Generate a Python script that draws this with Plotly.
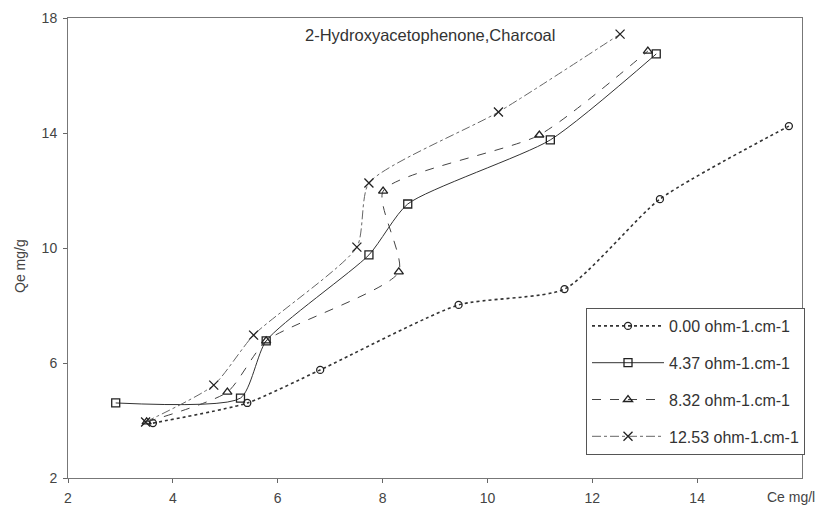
import plotly.graph_objects as go

# Equilibrium concentration Ce (mg/l) and uptake Qe (mg/g) for each conductivity level
ce_000 = [3.62, 5.42, 6.81, 9.45, 11.47, 13.29, 15.75]
qe_000 = [3.91, 4.61, 5.76, 8.02, 8.57, 11.70, 14.24]

ce_437 = [2.91, 5.29, 5.78, 7.74, 8.48, 11.20, 13.22]
qe_437 = [4.61, 4.78, 6.77, 9.76, 11.53, 13.76, 16.75]

ce_832 = [3.50, 5.04, 5.78, 8.31, 8.01, 10.99, 13.06]
qe_832 = [3.95, 4.99, 6.77, 9.17, 11.98, 13.93, 16.85]

ce_1253 = [3.48, 4.78, 5.54, 7.51, 7.74, 10.21, 12.53]
qe_1253 = [3.95, 5.23, 6.97, 10.03, 12.26, 14.73, 17.44]

series_names = ["0.00 ohm-1.cm-1", "4.37 ohm-1.cm-1", "8.32 ohm-1.cm-1", "12.53 ohm-1.cm-1"]
x_ticks = [2, 4, 6, 8, 10, 12, 14]
y_ticks = [2, 6, 10, 14, 18]

styles = [
    dict(dash="dot", width=1.6, color="#333333", symbol="circle-open", size=7),
    dict(dash="solid", width=1.0, color="#333333", symbol="square-open", size=8),
    dict(dash="dash", width=1.0, color="#444444", symbol="triangle-up-open", size=8),
    dict(dash="dashdot", width=1.0, color="#666666", symbol="x-thin-open", size=9),
]

data = [(ce_000, qe_000), (ce_437, qe_437), (ce_832, qe_832), (ce_1253, qe_1253)]

fig = go.Figure()
for (xs, ys), name, st in zip(data, series_names, styles):
    fig.add_trace(go.Scatter(
        x=xs, y=ys, name=name, mode="lines+markers",
        legendgroup=name,
        line=dict(color=st["color"], width=st["width"], dash=st["dash"],
                  shape="spline", smoothing=0.6),
        marker=dict(symbol=st["symbol"], size=st["size"], color="#222222",
                    line=dict(width=1.3, color="#222222")),
    ))

font_main = "Liberation Sans, Arial, sans-serif"

W, H = 819, 516
L, R, T, B = 68, 17, 18, 38
plot_w = W - L - R
plot_h = H - T - B


def px_x(p):
    return (p - L) / plot_w


def px_y(p):
    return (H - B - p) / plot_h


fig.update_layout(
    width=W, height=H,
    margin=dict(l=L, r=R, t=T, b=B, autoexpand=False),
    paper_bgcolor="white", plot_bgcolor="white",
    font=dict(family=font_main, size=12, color="#333333"),
    showlegend=True,
    legend=dict(
        x=px_x(586), y=px_y(308), xanchor="left", yanchor="top",
        bordercolor="#555555", borderwidth=1, bgcolor="white",
        font=dict(size=16, color="#333333"),
        tracegroupgap=13, itemwidth=72,
    ),
    xaxis=dict(
        range=[2, 16], tickvals=x_ticks, ticks="outside", ticklen=4,
        tickcolor="#666666", showgrid=False, zeroline=False, automargin=False,
        showline=True, linecolor="#777777", linewidth=1, mirror=True,
        tickfont=dict(size=14, color="#444444"), ticklabelstandoff=3,
    ),
    yaxis=dict(
        range=[2, 18], tickvals=y_ticks, ticks="outside", ticklen=4,
        tickcolor="#666666", showgrid=False, zeroline=False, automargin=False,
        showline=True, linecolor="#777777", linewidth=1, mirror=True,
        tickfont=dict(size=14, color="#444444"), ticklabelstandoff=3,
    ),
    annotations=[
        dict(text="2-Hydroxyacetophenone,Charcoal", x=px_x(430), y=px_y(35),
             xref="paper", yref="paper", xanchor="center", yanchor="middle",
             showarrow=False, font=dict(size=16.5, color="#333333")),
        dict(text="Qe mg/g", x=px_x(20), y=px_y(266), xref="paper", yref="paper",
             xanchor="center", yanchor="middle",
             showarrow=False, textangle=-90, font=dict(size=14, color="#444444")),
        dict(text="Ce mg/l", x=px_x(817), y=px_y(497), xref="paper", yref="paper",
             xanchor="right", yanchor="middle",
             showarrow=False, font=dict(size=14, color="#444444")),
    ],
)

fig.write_html("out.html")
